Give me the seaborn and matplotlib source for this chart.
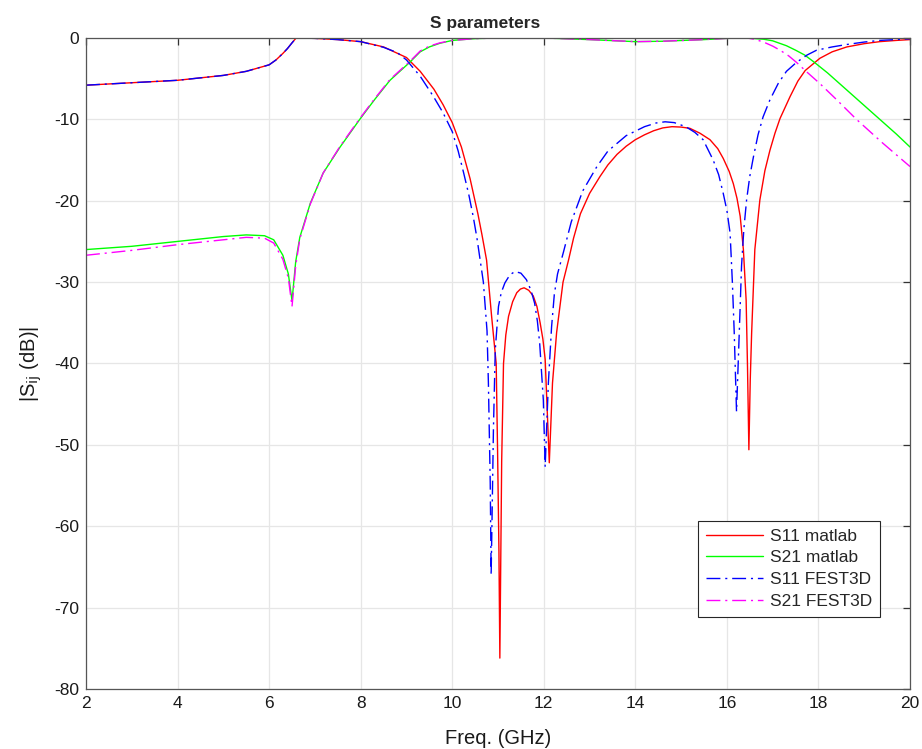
import numpy as np
import pandas as pd
import matplotlib
matplotlib.use("Agg")
import matplotlib.pyplot as plt
import seaborn as sns

# S11 matlab (red)
f_s11_matlab = [2, 3, 4, 5, 5.5, 6, 6.15, 6.3, 6.4, 6.5, 6.59, 7, 7.5, 8, 8.5, 9, 9.3,
                9.6, 9.8, 10, 10.2, 10.39, 10.56, 10.65, 10.75, 10.86, 10.96, 10.99,
                11.02, 11.04, 11.08, 11.12, 11.17, 11.23, 11.32, 11.41, 11.49, 11.57,
                11.67, 11.77, 11.85, 11.92, 11.98, 12.03, 12.08, 12.12, 12.19, 12.28,
                12.42, 12.54, 12.65, 12.8, 13.0, 13.23, 13.4, 13.6, 13.8, 14.0, 14.2,
                14.4, 14.6, 14.8, 15.0, 15.19, 15.41, 15.63, 15.8, 15.92, 16.05, 16.14,
                16.22, 16.29, 16.36, 16.42, 16.45, 16.48, 16.51, 16.54, 16.61, 16.72,
                16.83, 16.94, 17.05, 17.16, 17.38, 17.55, 17.71, 18.03, 18.3, 18.62,
                19.0, 19.34, 19.7, 20]
s11_matlab = [-5.8, -5.5, -5.2, -4.6, -4.1, -3.3, -2.7, -1.9, -1.3, -0.6, 0, -0.05,
              -0.2, -0.45, -1.1, -2.4, -4.1, -6.3, -8.2, -10.4, -13.4, -17.3, -21.6,
              -24.2, -27.3, -34.2, -40, -50.6, -63, -76.2, -52, -40, -36.5, -34.2,
              -32.4, -31.3, -30.85, -30.7, -31.0, -31.7, -33.0, -35, -37, -39.5, -46.5,
              -52.2, -42.4, -36.2, -30, -27.3, -24.6, -21.6, -19.1, -17, -15.6, -14.3,
              -13.3, -12.5, -11.9, -11.4, -11.05, -10.9, -10.95, -11.1, -11.7, -12.5,
              -13.6, -14.8, -16.4, -17.9, -19.7, -21.9, -26, -32.2, -40.4, -50.6, -42,
              -36.3, -26, -19.9, -16.3, -13.8, -11.7, -9.9, -7.2, -5.3, -4.0, -2.5,
              -1.7, -1.1, -0.7, -0.45, -0.3, -0.2]

# S21 matlab (green)
f_s21_matlab = [2, 3, 4, 5, 5.5, 5.9, 6.1, 6.3, 6.42, 6.5, 6.58, 6.67, 6.9, 7.18, 7.55,
                7.98, 8.3, 8.64, 9.07, 9.3, 9.5, 9.73, 10, 10.5, 11, 12, 13, 14, 14.6,
                15.5, 16, 16.4, 16.8, 17.0, 17.3, 17.5, 17.7, 17.89, 18.2, 18.62, 19.0,
                19.34, 19.7, 20]
s21_matlab = [-26.0, -25.6, -25.0, -24.4, -24.2, -24.3, -24.8, -26.7, -29, -32.3, -27.5,
              -24.5, -20.3, -16.6, -13.4, -10, -7.6, -5.2, -3, -1.7, -1.1, -0.65, -0.3,
              -0.08, 0, 0, -0.2, -0.45, -0.4, -0.2, -0.05, 0, -0.15, -0.35, -0.95,
              -1.5, -2.1, -2.9, -4.3, -6.4, -8.3, -10, -11.8, -13.4]

# S11 FEST3D (blue)
f_s11_fest = [2, 3, 4, 5, 5.5, 6, 6.15, 6.3, 6.4, 6.5, 6.59, 7, 7.5, 8, 8.5, 8.8, 9,
              9.3, 9.59, 9.8, 10, 10.13, 10.25, 10.36, 10.46, 10.54, 10.61, 10.68, 10.76,
              10.79, 10.83, 10.85, 10.9, 10.94, 11.01, 11.07, 11.15, 11.26, 11.37, 11.5,
              11.62, 11.72, 11.8, 11.86, 11.91, 11.99, 12.03, 12.1, 12.17, 12.23, 12.3,
              12.43, 12.6, 12.85, 13.16, 13.4, 13.8, 14.2, 14.45, 14.65, 14.85, 15.1,
              15.3, 15.48, 15.7, 15.82, 15.92, 16.0, 16.07, 16.12, 16.16, 16.21, 16.27,
              16.32, 16.37, 16.43, 16.5, 16.58, 16.68, 16.79, 16.94, 17.12, 17.3, 17.52,
              17.75, 17.96, 18.3, 18.62, 19.0, 19.34, 20]
s11_fest = [-5.8, -5.5, -5.2, -4.6, -4.1, -3.3, -2.7, -1.9, -1.3, -0.6, 0, -0.05, -0.2,
            -0.45, -1.15, -1.8, -2.7, -4.7, -7.2, -9.2, -11.5, -13.9, -16.6, -19.2,
            -22, -24.6, -27.3, -30, -36, -42.4, -54.7, -66, -48, -38.3, -33, -31.3,
            -30.1, -29.1, -28.7, -28.9, -29.7, -31.0, -32.6, -34.8, -37.5, -44.5,
            -52.7, -42.4, -35.5, -31.5, -29, -26.3, -22.6, -18.8, -15.8, -13.9, -12.0,
            -10.9, -10.45, -10.3, -10.4, -10.9, -11.6, -12.5, -15, -16.8, -19.1,
            -21.2, -24, -30.1, -36.2, -45.9, -36.2, -28, -23.5, -19.9, -17, -14.6,
            -11.9, -9.7, -7.6, -5.6, -4.1, -3, -2.1, -1.5, -1.1, -0.8, -0.5, -0.3,
            -0.1]

# S21 FEST3D (magenta)
f_s21_fest = [2, 3, 4, 5, 5.5, 5.9, 6.1, 6.3, 6.42, 6.5, 6.58, 6.67, 6.9, 7.18, 7.55,
              7.98, 8.3, 8.64, 9.07, 9.3, 9.5, 9.73, 10, 10.5, 11, 12, 13, 14, 14.6,
              15.5, 16, 16.43, 16.6, 16.8, 17.0, 17.16, 17.35, 17.52, 17.75, 18.03,
              18.4, 18.83, 19.4, 20]
s21_fest = [-26.7, -26.1, -25.4, -24.8, -24.5, -24.6, -25.2, -27.2, -29.5, -33, -28,
            -24.7, -20.4, -16.6, -13.3, -9.9, -7.5, -5.1, -2.9, -1.6, -1.0, -0.6, -0.3,
            -0.08, 0, 0, -0.2, -0.45, -0.4, -0.2, -0.05, 0, -0.15, -0.5, -1.0, -1.5,
            -2.2, -3, -4.2, -5.6, -7.6, -10, -12.9, -15.8]

x_ticks = list(range(2, 21, 2))
y_ticks = list(range(-80, 1, 10))

sns.set_theme(style="whitegrid")
plt.rcParams['font.family'] = ['Liberation Sans', 'DejaVu Sans']
plt.rcParams['font.size'] = 12.5
plt.rcParams['axes.unicode_minus'] = False

fig = plt.figure(figsize=(9.22, 7.49), dpi=100)
ax = fig.add_axes([0.0933, 0.0801, 0.8937, 0.8692])
ax.set_facecolor('white')

dashdot = (0, (10, 3.5, 1.5, 3.5))
series = [
    (f_s11_matlab, s11_matlab, '#ff0000', '-', 'S11 matlab'),
    (f_s21_matlab, s21_matlab, '#00ff00', '-', 'S21 matlab'),
    (f_s11_fest, s11_fest, '#0000ff', dashdot, 'S11 FEST3D'),
    (f_s21_fest, s21_fest, '#ff00ff', dashdot, 'S21 FEST3D'),
]
for fx, sy, col, ls, lab in series:
    d = pd.DataFrame({'f': fx, 's': sy})
    sns.lineplot(data=d, x='f', y='s', ax=ax, color=col, linestyle=ls,
                 linewidth=1.0, label=lab, estimator=None)

ax.set_xlim(2, 20)
ax.set_ylim(-80, 0)
ax.set_xticks(x_ticks)
ax.set_yticks(y_ticks)
ax.grid(True, color='#e6e6e6', linewidth=0.9)
ax.tick_params(direction='in', length=5, width=0.9, color='#333333',
               top=True, right=True, labelsize=12.5, labelcolor='#1a1a1a', pad=5)
for sp in ax.spines.values():
    sp.set_color('#555555')
    sp.set_linewidth(0.9)

ax.set_title('S parameters', fontweight='bold', fontsize=12.5, pad=7, x=0.4845)
ax.set_xlabel('Freq. (GHz)', fontsize=14.5, labelpad=13, color='#1a1a1a')
ax.set_ylabel(r'|S$_{\rm ij}$ (dB)|', fontsize=14.5, labelpad=7, color='#1a1a1a')

leg = ax.legend(loc='lower right', bbox_to_anchor=(0.964, 0.111), fancybox=False,
                framealpha=1, edgecolor='#262626', fontsize=12.5, handlelength=3.3,
                borderpad=0.45, labelspacing=0.38, handletextpad=0.4,
                borderaxespad=0)
leg.get_frame().set_linewidth(0.8)

fig.savefig('out.png', dpi=100)
